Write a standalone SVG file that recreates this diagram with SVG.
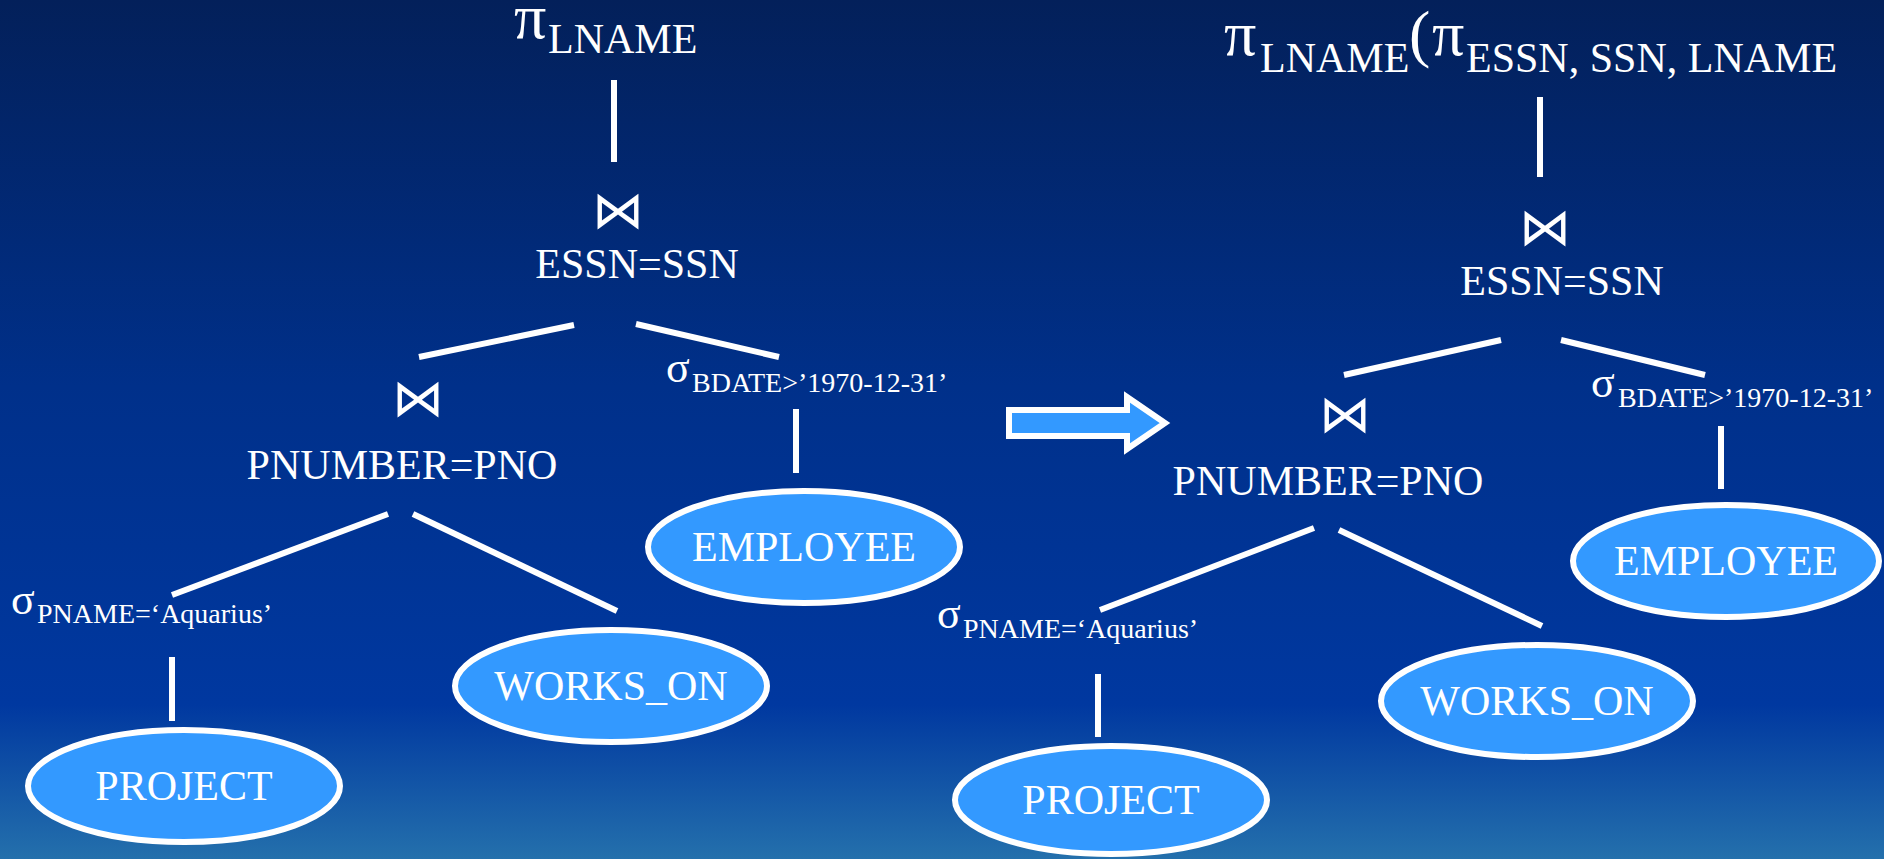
<svg xmlns="http://www.w3.org/2000/svg" width="1884" height="859" viewBox="0 0 1884 859">
  <defs>
    <linearGradient id="bg" x1="0" y1="0" x2="0" y2="1">
      <stop offset="0" stop-color="#03205a"/>
      <stop offset="0.45" stop-color="#00308a"/>
      <stop offset="0.82" stop-color="#0038a0"/>
      <stop offset="1" stop-color="#2470ac"/>
    </linearGradient>
    <style>
      .t { font-family: "Liberation Serif", "Times New Roman", serif; fill: #ffffff; }
      .big { font-size: 42px; }
      .sub { font-size: 28px; }
      .pi { font-size: 64px; }
      .sig { font-size: 44px; }
      .join { font-family: "DejaVu Serif", "DejaVu Sans", serif; font-size: 52px; fill: #ffffff; text-anchor: middle; }
      .mid { text-anchor: middle; }
      .edge { stroke: #ffffff; stroke-width: 6; fill: none; }
      .rel { fill: #3399ff; stroke: #ffffff; stroke-width: 6; }
    </style>
  </defs>

  <rect x="0" y="0" width="1884" height="859" fill="url(#bg)"/>

  <!-- tree edges -->
  <g id="connectors">
    <!-- left tree -->
    <line class="edge" x1="614" y1="80" x2="614" y2="162"/>
    <line class="edge" x1="419" y1="357" x2="574" y2="325"/>
    <line class="edge" x1="636" y1="324" x2="779" y2="357"/>
    <line class="edge" x1="796" y1="409" x2="796" y2="473"/>
    <line class="edge" x1="388" y1="514" x2="172" y2="595"/>
    <line class="edge" x1="413" y1="514" x2="617" y2="611"/>
    <line class="edge" x1="172" y1="657" x2="172" y2="721"/>
    <!-- right tree -->
    <line class="edge" x1="1540" y1="97" x2="1540" y2="177"/>
    <line class="edge" x1="1344" y1="375" x2="1501" y2="340"/>
    <line class="edge" x1="1561" y1="340" x2="1705" y2="375"/>
    <line class="edge" x1="1721" y1="426" x2="1721" y2="489"/>
    <line class="edge" x1="1314" y1="528" x2="1100" y2="610"/>
    <line class="edge" x1="1339" y1="530" x2="1542" y2="626"/>
    <line class="edge" x1="1098" y1="674" x2="1098" y2="737"/>
  </g>

  <!-- left query tree -->
  <g id="l-project">
    <text class="t pi" x="514" y="38">π</text>
    <text class="t big" x="548" y="53">LNAME</text>
  </g>
  <g id="l-join1">
    <text class="join" x="618" y="228">⋈</text>
    <text class="t big mid" x="637" y="278">ESSN=SSN</text>
  </g>
  <g id="l-join2">
    <text class="join" x="418" y="416">⋈</text>
    <text class="t big mid" x="402" y="479">PNUMBER=PNO</text>
  </g>
  <g id="l-sel-bdate">
    <text class="t sig" x="666" y="382">σ</text>
    <text class="t sub" x="692" y="392">BDATE&gt;’1970-12-31’</text>
  </g>
  <g id="l-sel-pname">
    <text class="t sig" x="11" y="614">σ</text>
    <text class="t sub" x="37" y="623">PNAME=‘Aquarius’</text>
  </g>
  <g id="l-employee">
    <ellipse class="rel" cx="804" cy="547" rx="156" ry="56"/>
    <text class="t big mid" x="804" y="561">EMPLOYEE</text>
  </g>
  <g id="l-works-on">
    <ellipse class="rel" cx="611" cy="686" rx="156" ry="56"/>
    <text class="t big mid" x="611" y="700">WORKS_ON</text>
  </g>
  <g id="l-project-rel">
    <ellipse class="rel" cx="184" cy="786" rx="156" ry="56"/>
    <text class="t big mid" x="184" y="800">PROJECT</text>
  </g>

  <!-- transformation arrow -->
  <g id="arrow">
    <path d="M1009,410 H1127 V397 L1165,423 L1127,449 V436 H1009 Z" fill="#3399ff" stroke="#ffffff" stroke-width="6"/>
  </g>

  <!-- right query tree -->
  <g id="r-project">
    <text class="t pi" x="1224" y="55">π</text>
    <text class="t big" x="1260" y="72">LNAME</text>
    <text class="t pi" x="1409" y="55">(</text>
    <text class="t pi" x="1432" y="55">π</text>
    <text class="t big" x="1466" y="72">ESSN, SSN, LNAME</text>
  </g>
  <g id="r-join1">
    <text class="join" x="1545" y="245">⋈</text>
    <text class="t big mid" x="1562" y="295">ESSN=SSN</text>
  </g>
  <g id="r-join2">
    <text class="join" x="1345" y="432">⋈</text>
    <text class="t big mid" x="1328" y="495">PNUMBER=PNO</text>
  </g>
  <g id="r-sel-bdate">
    <text class="t sig" x="1591" y="397">σ</text>
    <text class="t sub" x="1618" y="407">BDATE&gt;’1970-12-31’</text>
  </g>
  <g id="r-sel-pname">
    <text class="t sig" x="937" y="628">σ</text>
    <text class="t sub" x="963" y="638">PNAME=‘Aquarius’</text>
  </g>
  <g id="r-employee">
    <ellipse class="rel" cx="1726" cy="561" rx="153" ry="56"/>
    <text class="t big mid" x="1726" y="575">EMPLOYEE</text>
  </g>
  <g id="r-works-on">
    <ellipse class="rel" cx="1537" cy="701" rx="156" ry="56"/>
    <text class="t big mid" x="1537" y="715">WORKS_ON</text>
  </g>
  <g id="r-project-rel">
    <ellipse class="rel" cx="1111" cy="800" rx="156" ry="54"/>
    <text class="t big mid" x="1111" y="814">PROJECT</text>
  </g>
</svg>
